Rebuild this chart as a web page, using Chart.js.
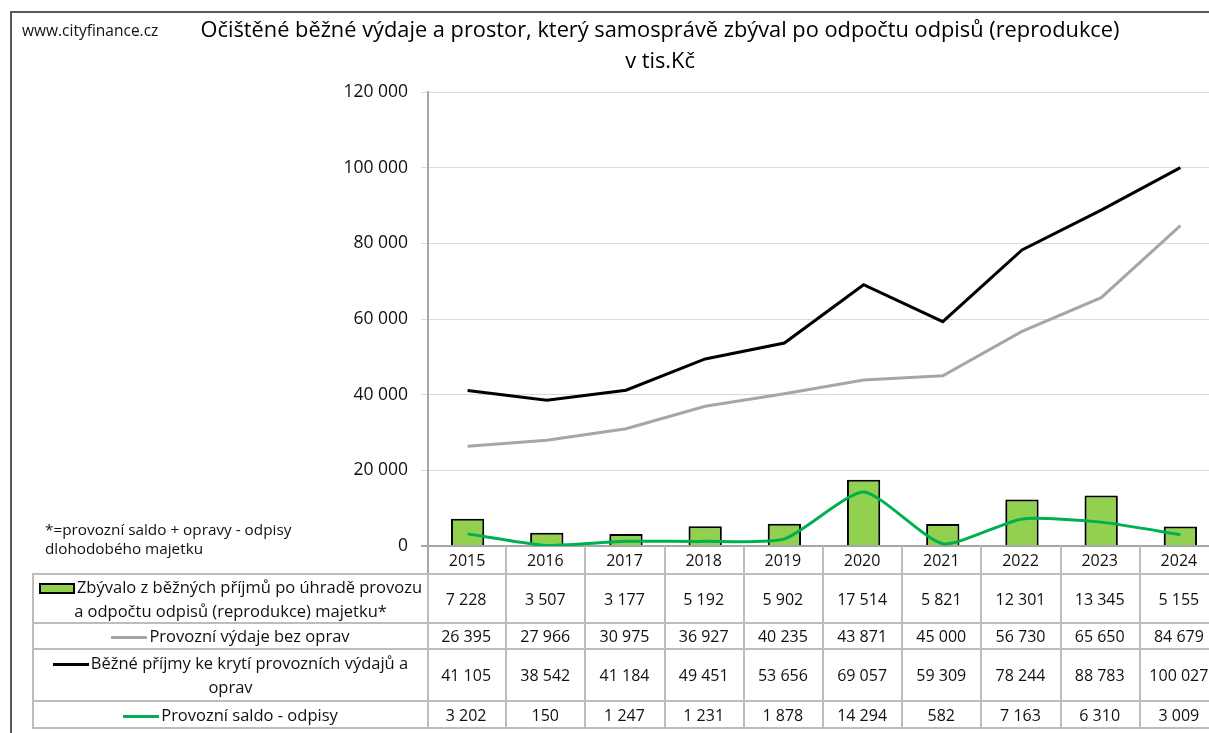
<!DOCTYPE html>
<html>
<head>
<meta charset="utf-8">
<script src="https://cdn.jsdelivr.net/npm/chart.js@4.4.1/dist/chart.umd.min.js"></script>
<style>
  html, body { margin: 0; padding: 0; background: #fff; overflow: hidden; width: 1209px; height: 733px; }
  body { font-family: "Open Sans", Lato, sans-serif; color: #111; }
  #page { position: relative; width: 1209px; height: 733px; overflow: hidden; }
  #frame { position: absolute; left: 10px; top: 11px; width: 1230px; height: 730px; border-left: 2px solid #5a5a5a; border-top: 2px solid #5a5a5a; }
  #cv { position: absolute; left: 0; top: 0; }
  #site { position: absolute; left: 22px; top: 19px; font-size: 15.5px; }
  #title { position: absolute; left: 0; width: 1320px; top: 13px; text-align: center; font-size: 21.8px; line-height: 31px; color: #000; }
  #note { position: absolute; left: 45px; top: 520px; font-size: 15.3px; line-height: 19px; }
  .cell { position: absolute; box-sizing: border-box; display: flex; align-items: center; justify-content: center;
          border-right: 2px solid #bdbdbd; border-bottom: 2px solid #bdbdbd; font-size: 16px; text-align: center; }
  .leg { border-left: 2px solid #bdbdbd; white-space: pre-line; line-height: 24px; font-size: 16.5px; }
  .sw { display: inline-block; vertical-align: middle; margin-right: 2px; }
</style>
</head>
<body>
<div id="page">
<div id="frame"></div>
<canvas id="cv" width="1224" height="733"></canvas>
<div id="site">www.cityfinance.cz</div>
<div id="title">Očištěné běžné výdaje a prostor, který samosprávě zbýval po odpočtu odpisů (reprodukce)<br>v tis.Kč</div>
<div id="note">*=provozní saldo + opravy - odpisy<br>dlohodobého majetku</div>
<div id="tbl"></div>
</div>
<script>
// data (tis. Kč)
const years = ['2015', '2016', '2017', '2018', '2019', '2020', '2021', '2022', '2023', '2024'];
const zbyvalo = [7228, 3507, 3177, 5192, 5902, 17514, 5821, 12301, 13345, 5155];
const vydaje = [26395, 27966, 30975, 36927, 40235, 43871, 45000, 56730, 65650, 84679];
const prijmy = [41105, 38542, 41184, 49451, 53656, 69057, 59309, 78244, 88783, 100027];
const saldo = [3202, 150, 1247, 1231, 1878, 14294, 582, 7163, 6310, 3009];

const labels = [
    'Zbývalo z běžných příjmů po úhradě provozu\na odpočtu odpisů (reprodukce) majetku*',
    'Provozní výdaje bez oprav',
    'Běžné příjmy ke krytí provozních výdajů a\noprav',
    'Provozní saldo - odpisy',
];

const fmt = v => String(v).replace(/\B(?=(\d{3})+(?!\d))/g, ' ');

// shadow under the bars, like the excel original
const barShadow = {
    id: 'barShadow',
    beforeDatasetDraw(chart, args) {
        if (args.index !== 0) return;
        const c = chart.ctx;
        c.save();
        c.shadowColor = 'rgba(0,0,0,0.35)';
        c.shadowBlur = 5;
        c.shadowOffsetX = -3;
        c.shadowOffsetY = 2;
    },
    afterDatasetDraw(chart, args) {
        if (args.index === 0) chart.ctx.restore();
    }
};

const chart = new Chart(document.getElementById('cv'), {
    type: 'bar',
    data: {
        labels: years,
        datasets: [{
            type: 'bar',
            label: labels[0],
            data: zbyvalo,
            backgroundColor: '#92d050',
            borderColor: '#000',
            borderWidth: 2,
            barPercentage: 0.42,
            categoryPercentage: 1,
            order: 2,
        }, {
            type: 'line',
            label: labels[1],
            data: vydaje,
            borderColor: '#a6a6a6',
            borderWidth: 3,
            pointRadius: 0,
            order: 1,
        }, {
            type: 'line',
            label: labels[2],
            data: prijmy,
            borderColor: '#000',
            borderWidth: 3,
            pointRadius: 0,
            order: 1,
        }, {
            type: 'line',
            label: labels[3],
            data: saldo,
            borderColor: '#00b050',
            borderWidth: 3,
            pointRadius: 0,
            tension: 0.2,
            order: 0,
        }],
    },
    options: {
        responsive: false,
        animation: false,
        layout: { padding: { left: 0, top: 92, right: 4, bottom: 187 } },
        plugins: { legend: { display: false }, tooltip: { enabled: false } },
        scales: {
            x: { display: false },
            y: {
                min: 0,
                max: 120000,
                afterFit(s) { s.width = 428; },
                ticks: {
                    stepSize: 20000,
                    padding: 13,
                    color: '#111',
                    font: { family: 'Open Sans', size: 17.5 },
                    callback: v => fmt(v),
                },
                grid: {
                    color: c => c.tick && c.tick.value === 0 ? '#a6a6a6' : '#d9d9d9',
                    lineWidth: c => c.tick && c.tick.value === 0 ? 2 : 1,
                    tickLength: 7,
                },
                border: { color: '#a6a6a6', width: 2 },
            },
        },
    },
    plugins: [barShadow],
});

// data table under the plot, columns follow the x scale
function buildTable(chart) {
    const area = chart.chartArea;
    const xs = chart.scales.x;
    const w = (area.right - area.left) / years.length;
    const heights = [29, 49, 26, 52, 27];
    const rows = [years, zbyvalo, vydaje, prijmy, saldo];
    const tbl = document.getElementById('tbl');
    let top = area.bottom;
    let html = '';
    rows.forEach((row, r) => {
        const h = heights[r];
        if (r > 0) {
            let sw = '';
            if (r === 1) sw = '<span class="sw" style="width:32px;height:7px;background:#92d050;border:2px solid #000"></span>';
            if (r === 2) sw = '<span class="sw" style="width:36px;height:3px;background:#a6a6a6"></span>';
            if (r === 3) sw = '<span class="sw" style="width:36px;height:3px;background:#000"></span>';
            if (r === 4) sw = '<span class="sw" style="width:36px;height:3px;background:#00b050"></span>';
            const bt = r === 1 ? 'border-top:2px solid #bdbdbd;' : '';
            html += `<div class="cell leg" style="left:32px;top:${top - (r === 1 ? 2 : 0)}px;width:${area.left - 32 + 1}px;height:${h + (r === 1 ? 2 : 0)}px;${bt}"><span>${sw}${labels[r - 1]}</span></div>`;
        }
        row.forEach((v, i) => {
            const x0 = xs.getPixelForValue(i) - w / 2;
            const bl = i === 0 && r === 0 ? 'border-left:2px solid #a6a6a6;' : '';
            html += `<div class="cell" style="left:${x0 - 1}px;top:${top}px;width:${w + 1}px;height:${h}px;${bl}">${r === 0 ? v : fmt(v)}</div>`;
        });
        top += h;
    });
    tbl.innerHTML = html;
}
buildTable(chart);
</script>
</body>
</html>
